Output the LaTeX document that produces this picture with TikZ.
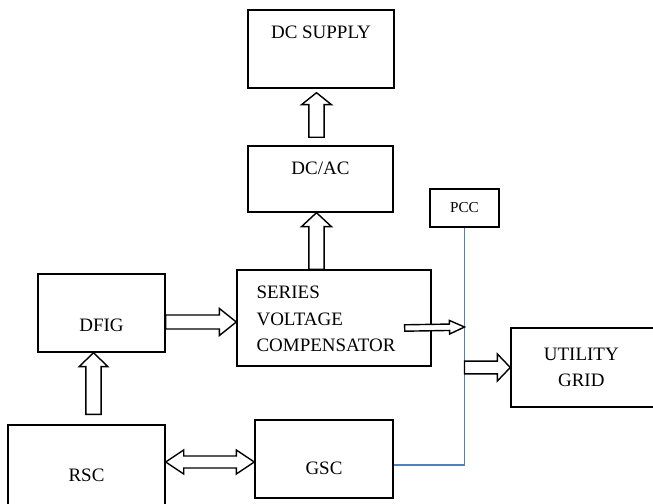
\documentclass[tikz,border=0pt]{standalone}
\usepackage{fontspec}
\setmainfont{Liberation Serif}
\usetikzlibrary{calc}

\definecolor{busblue}{RGB}{79,129,189}

% hollow block arrow: tail, tip, shaft half width, head half width, head length
\newcommand{\blockarrow}[5]{%
  \draw[barrow] let \p1=#1, \p2=#2, \n1={atan2(\y2-\y1,\x2-\x1)} in
    ($(\p1)+(\n1+90:#3)$) -- ($(\p2)+(\n1+180:#5)+(\n1+90:#3)$)
    -- ($(\p2)+(\n1+180:#5)+(\n1+90:#4)$) -- (\p2)
    -- ($(\p2)+(\n1+180:#5)+(\n1-90:#4)$) -- ($(\p2)+(\n1+180:#5)+(\n1-90:#3)$)
    -- ($(\p1)+(\n1-90:#3)$) -- cycle;}
% same with a head at both ends
\newcommand{\dblblockarrow}[5]{%
  \draw[barrow] let \p1=#1, \p2=#2, \n1={atan2(\y2-\y1,\x2-\x1)} in
    (\p1) -- ($(\p1)+(\n1:#5)+(\n1+90:#4)$) -- ($(\p1)+(\n1:#5)+(\n1+90:#3)$)
    -- ($(\p2)+(\n1+180:#5)+(\n1+90:#3)$) -- ($(\p2)+(\n1+180:#5)+(\n1+90:#4)$)
    -- (\p2) -- ($(\p2)+(\n1+180:#5)+(\n1-90:#4)$) -- ($(\p2)+(\n1+180:#5)+(\n1-90:#3)$)
    -- ($(\p1)+(\n1:#5)+(\n1-90:#3)$) -- ($(\p1)+(\n1:#5)+(\n1-90:#4)$) -- cycle;}

\begin{document}
\begin{tikzpicture}[
    box/.style={draw, line width=1pt, inner sep=0pt},
    lbl/.style={inner sep=0pt, align=center, font=\fontsize{13.5}{18.8}\selectfont},
    smalllbl/.style={inner sep=0pt, font=\fontsize{10.8}{13}\selectfont},
    barrow/.style={draw, fill=white, line width=1pt, line join=miter},
    bus/.style={busblue, line width=1pt},
  ]
    \useasboundingbox (0,0) rectangle (16.325,12.575);

    % Blocks
    \node[box, minimum width=3.65cm, minimum height=1.95cm] (dcsup) at (8.025,11.35) {};
    \node[box, minimum width=3.625cm, minimum height=1.65cm] (dcac) at (8.0125,8.1) {};
    \node[box, minimum width=4.85cm, minimum height=2.4cm] (svc) at (8.35,4.625) {};
    \node[box, minimum width=1.725cm, minimum height=0.95cm] (pcc) at (11.6125,7.375) {};
    \node[box, minimum width=3.175cm, minimum height=1.95cm] (dfig) at (2.5375,4.75) {};
    \node[box, minimum width=3.925cm, minimum height=2cm] (rsc) at (2.1625,0.95) {};
    \node[box, minimum width=3.45cm, minimum height=1.95cm] (gsc) at (8.1,1.1) {};
    \node[box, minimum width=3.9cm, minimum height=1.975cm] (grid) at (14.725,3.3875) {};

    % Texts
    \node[lbl] (dcsupt) at ($(dcsup)+(0,0.425)$) {DC SUPPLY};
    \node[lbl] (dcact) at ($(dcac)+(0,0.275)$) {DC/AC};
    \node[lbl, anchor=west, align=left] (svct) at ($(svc.west)+(0.5,-0.025)$) {SERIES\\VOLTAGE\\COMPENSATOR};
    \node[smalllbl] (pcct) at (pcc) {PCC};
    \node[lbl] (dfigt) at ($(dfig)+(0,-0.3)$) {DFIG};
    \node[lbl] (rsct) at ($(rsc)+(0,-0.25)$) {RSC};
    \node[lbl] (gsct) at ($(gsc)+(0,-0.225)$) {GSC};
    \node[lbl] (gridt) at ($(grid.west)+(1.775,0)$) {UTILITY\\GRID};

    % PCC bus
    \coordinate (tap) at ($(pcc.south |- gsc.east)+(0,-0.15)$);
    \draw[bus] (pcc.south) -- (tap) -- (tap -| gsc.east);

    % Arrows
    \blockarrow{([yshift=-0.225cm]dfig.east)}{([yshift=-0.1cm]svc.west)}{0.175cm}{0.34cm}{0.425cm}
    \blockarrow{($(dcac.south |- svc.north)+(-0.1,0)$)}{($(dcac.south)+(-0.1,0)$)}{0.19cm}{0.375cm}{0.35cm}
    \blockarrow{($(dcac.north)+(-0.1,0.2)$)}{($(dcac.north |- dcsup.south)+(-0.1,-0.1)$)}{0.19cm}{0.375cm}{0.3cm}
    \blockarrow{($(dfig.south |- rsc.north)+(-0.2,0.25)$)}{($(dfig.south)+(-0.2,0)$)}{0.19cm}{0.36cm}{0.35cm}
    \dblblockarrow{($(rsc.east)+(0,0.075)$)}{($(gsc.west)+(0,-0.075)$)}{0.15cm}{0.3cm}{0.45cm}
    \blockarrow{($(svc.east)+(-0.675,-0.25)$)}{($(tap |- svc.east)+(0,-0.225)$)}{0.08cm}{0.17cm}{0.375cm}
    \blockarrow{(tap |- grid.west)}{(grid.west)}{0.16cm}{0.34cm}{0.325cm}
\end{tikzpicture}
\end{document}
